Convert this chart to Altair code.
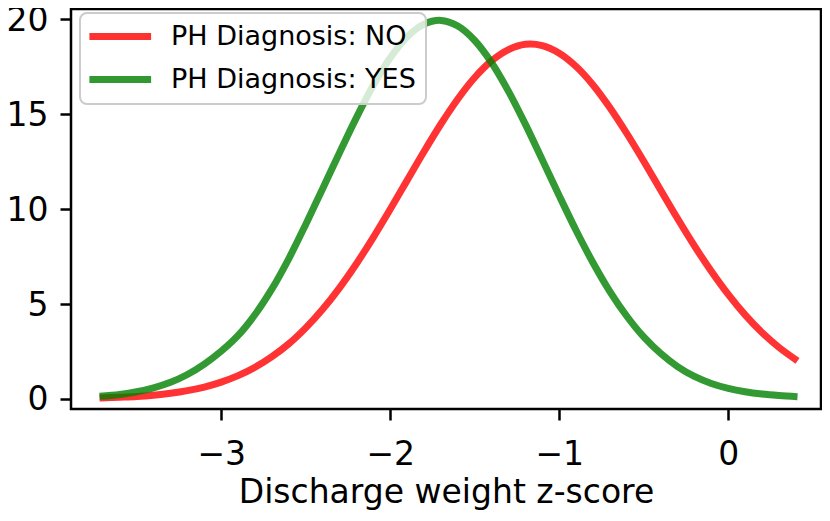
import altair as alt
import pandas as pd

# x positions (Discharge weight z-score)
xs = [-3.72, -3.6, -3.5, -3.4, -3.3, -3.2, -3.1, -3.0, -2.9, -2.8, -2.7,
      -2.6, -2.5, -2.4, -2.3, -2.2, -2.1, -2.0, -1.9, -1.8, -1.7, -1.6,
      -1.5, -1.4, -1.3, -1.2, -1.1, -1.0, -0.9, -0.8, -0.7, -0.6, -0.5,
      -0.4, -0.3, -0.2, -0.1, 0.0, 0.1, 0.2, 0.3, 0.41]

# PH Diagnosis: NO (red)
red_vals = [0.05, 0.09, 0.13, 0.20, 0.30, 0.44, 0.63, 0.89, 1.23, 1.67, 2.23,
            2.91, 3.75, 4.73, 5.86, 7.13, 8.52, 10.00, 11.52, 13.04, 14.49, 15.81,
            16.94, 17.82, 18.41, 18.69, 18.62, 18.22, 17.52, 16.55, 15.35, 13.99, 12.53,
            11.01, 9.51, 8.07, 6.73, 5.51, 4.43, 3.50, 2.72, 2.01]

# PH Diagnosis: YES (green)
green_vals = [0.14, 0.24, 0.38, 0.59, 0.88, 1.29, 1.84, 2.52, 3.35, 4.45, 5.80,
              7.40, 9.20, 11.08, 12.98, 14.83, 16.53, 17.98, 19.08, 19.75, 19.95, 19.65,
              18.89, 17.72, 16.21, 14.47, 12.60, 10.71, 8.88, 7.18, 5.66, 4.36, 3.27,
              2.40, 1.71, 1.19, 0.82, 0.56, 0.38, 0.26, 0.18, 0.12]

series_names = ["PH Diagnosis: NO", "PH Diagnosis: YES"]
series_colors = ["#ff0000", "#008000"]

x_ticks = [-3, -2, -1, 0]
y_ticks = [0, 5, 10, 15, 20]

df = pd.DataFrame({
    "x": xs + xs,
    "y": red_vals + green_vals,
    "series": [series_names[0]] * len(xs) + [series_names[1]] * len(xs),
})

FONT = "DejaVu Sans"

chart = alt.Chart(df).mark_line(
    strokeWidth=7, strokeOpacity=0.8, interpolate="catmull-rom"
).encode(
    x=alt.X("x:Q",
            scale=alt.Scale(domain=[-3.889, 0.549], nice=False, zero=False),
            axis=alt.Axis(values=x_ticks, title="Discharge weight z-score",
                          labelPadding=18, titleY=93, titleBaseline="alphabetic")),
    y=alt.Y("y:Q",
            scale=alt.Scale(domain=[-0.527, 20.55], nice=False, zero=False),
            axis=alt.Axis(values=y_ticks, title=None, labelPadding=12, labelOffset=1)),
    color=alt.Color("series:N",
                    scale=alt.Scale(domain=series_names, range=series_colors),
                    legend=alt.Legend(title=None, orient="none", legendX=9, legendY=4,
                                      symbolType="M-1.584,0H5.348", symbolSize=317,
                                      symbolStrokeWidth=7, symbolOpacity=0.8,
                                      labelFontSize=27, labelFont=FONT, labelColor="black",
                                      labelOffset=54, labelLimit=400,
                                      fillColor="rgba(255,255,255,0.8)",
                                      strokeColor="#cccccc", padding=10, rowPadding=14,
                                      cornerRadius=7)),
).properties(
    width=750, height=400,
    padding={"left": 63, "top": 1, "right": 1, "bottom": 104},
    autosize=alt.AutoSizeParams(type="none"),
).configure_view(
    stroke="black", strokeWidth=2.5
).configure_axis(
    labelFont=FONT, labelFontSize=33, labelColor="black",
    titleFont=FONT, titleFontSize=33, titleColor="black", titleFontWeight="normal",
    tickColor="black", tickWidth=2.5, tickSize=11,
    domain=False, grid=False,
).configure_legend(
    strokeWidth=2
)

chart.save("out.html", embed_options={"renderer": "svg", "actions": False})
